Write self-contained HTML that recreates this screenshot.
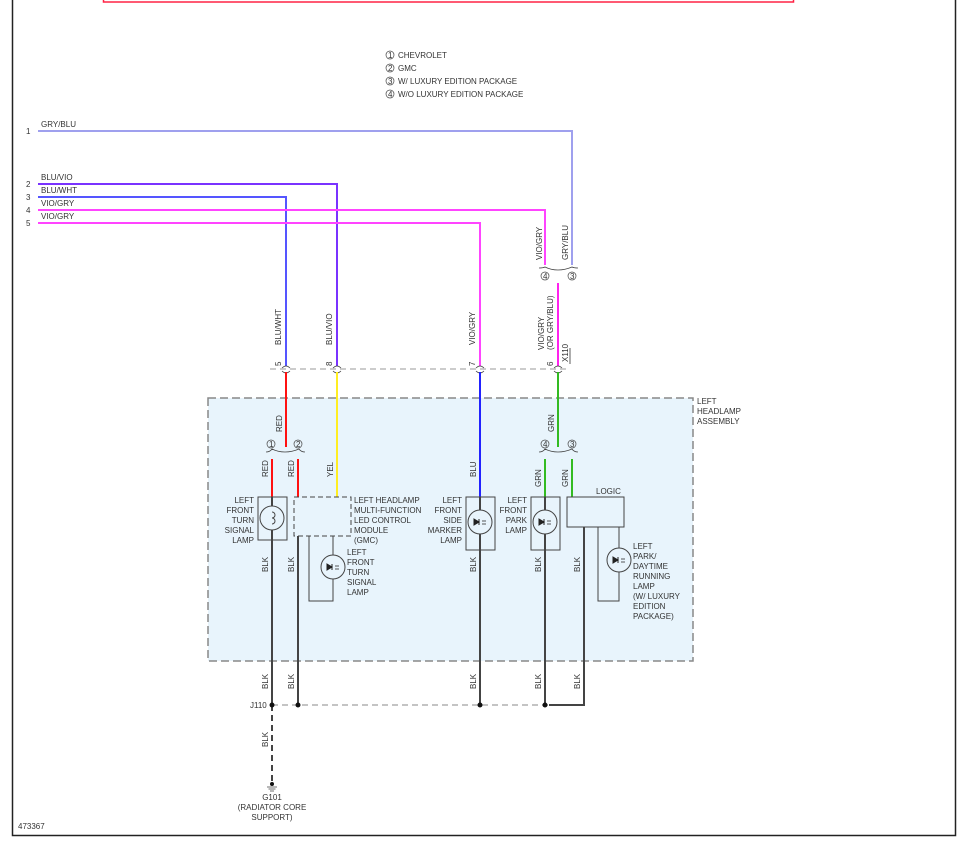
<!DOCTYPE html>
<html><head><meta charset="utf-8"><style>
html,body{margin:0;padding:0;background:#fff;}
svg{display:block;font-family:"Liberation Sans",sans-serif;}
text{font-size:8px;fill:#333;}
</style></head><body>
<svg width="969" height="844" viewBox="0 0 969 844" xmlns="http://www.w3.org/2000/svg">
<rect x="103.5" y="-5" width="690" height="7" fill="none" stroke="#ff2244" stroke-width="1.5"/>
<path d="M12.5 0 V835.5 H955.5 V0" fill="none" stroke="#222" stroke-width="1.5"/>
<!-- legend -->
<g>
<circle cx="390" cy="55" r="4" fill="none" stroke="#444" stroke-width="0.7"/><text x="388" y="58" font-size="6">1</text><text x="398" y="58">CHEVROLET</text>
<circle cx="390" cy="68" r="4" fill="none" stroke="#444" stroke-width="0.7"/><text x="388" y="71" font-size="6">2</text><text x="398" y="71">GMC</text>
<circle cx="390" cy="81" r="4" fill="none" stroke="#444" stroke-width="0.7"/><text x="388" y="84" font-size="6">3</text><text x="398" y="84">W/ LUXURY EDITION PACKAGE</text>
<circle cx="390" cy="94" r="4" fill="none" stroke="#444" stroke-width="0.7"/><text x="388" y="97" font-size="6">4</text><text x="398" y="97">W/O LUXURY EDITION PACKAGE</text>
</g>
<!-- dashed box -->
<rect x="208" y="398" width="485" height="263" fill="#e8f4fc" stroke="#888" stroke-width="1.5" stroke-dasharray="8,4"/>
<text x="697" y="404">LEFT</text><text x="697" y="414">HEADLAMP</text><text x="697" y="424">ASSEMBLY</text>
<!-- harness wires -->
<g fill="none" stroke-width="2">
<path d="M38 131 H572 V265" stroke="#9fa0ee"/>
<path d="M38 184 H337 V366" stroke="#7a33ff"/>
<path d="M38 197 H286 V366" stroke="#5555ff"/>
<path d="M38 210 H545 V265" stroke="#ff44ff"/>
<path d="M38 223 H480 V366" stroke="#ff44ff"/>
<path d="M558 283 V366" stroke="#ff22ee"/>
</g>
<text x="26" y="134">1</text><text x="41" y="127">GRY/BLU</text>
<text x="26" y="187">2</text><text x="41" y="180">BLU/VIO</text>
<text x="26" y="200">3</text><text x="41" y="193">BLU/WHT</text>
<text x="26" y="213">4</text><text x="41" y="206">VIO/GRY</text>
<text x="26" y="226">5</text><text x="41" y="219">VIO/GRY</text>
<!-- upper bracket -->
<path d="M539 268 q4 0 6 -1 q6 3 13 3 q7 0 14 -3 q2 1 6 1" fill="none" stroke="#444" stroke-width="0.8"/>
<circle cx="545" cy="276" r="4" fill="none" stroke="#444" stroke-width="0.7"/><text x="543" y="279" font-size="6">4</text>
<circle cx="572" cy="276" r="4" fill="none" stroke="#444" stroke-width="0.7"/><text x="570" y="279" font-size="6">3</text>
<g font-size="8">
<text transform="translate(542,260) rotate(-90)">VIO/GRY</text>
<text transform="translate(568,260) rotate(-90)">GRY/BLU</text>
<text transform="translate(544,350) rotate(-90)">VIO/GRY</text>
<text transform="translate(553,350) rotate(-90)">(OR GRY/BLU)</text>
<text transform="translate(568,362) rotate(-90)">X110</text>
<text transform="translate(281,345) rotate(-90)">BLU/WHT</text>
<text transform="translate(332,345) rotate(-90)">BLU/VIO</text>
<text transform="translate(475,345) rotate(-90)">VIO/GRY</text>
<text transform="translate(281,366) rotate(-90)">5</text>
<text transform="translate(332,366) rotate(-90)">8</text>
<text transform="translate(475,366) rotate(-90)">7</text>
<text transform="translate(553,366) rotate(-90)">6</text>
</g>
<line x1="570" y1="364" x2="570" y2="348" stroke="#333" stroke-width="0.8"/>
<!-- connector dashed -->
<line x1="270" y1="369" x2="566" y2="369" stroke="#999" stroke-width="1" stroke-dasharray="6,4"/>
<g fill="none" stroke="#444" stroke-width="0.8">
<path d="M282 368 q4 -4 8 0 M282 371 q4 4 8 0"/>
<path d="M333 368 q4 -4 8 0 M333 371 q4 4 8 0"/>
<path d="M476 368 q4 -4 8 0 M476 371 q4 4 8 0"/>
<path d="M554 368 q4 -4 8 0 M554 371 q4 4 8 0"/>
</g>
<!-- lower wires -->
<g fill="none" stroke-width="2">
<path d="M286 372 V447" stroke="#ff1111"/>
<path d="M272 459 V497" stroke="#ff1111"/>
<path d="M298 459 V497" stroke="#ff1111"/>
<path d="M337 372 V497" stroke="#ffee22"/>
<path d="M480 372 V497" stroke="#2222ff"/>
<path d="M558 372 V447" stroke="#33bb22"/>
<path d="M545 459 V497" stroke="#33bb22"/>
<path d="M572 459 V497" stroke="#33bb22"/>
</g>
<path d="M266 456 q4 0 6 -3 q6 3 13 3 q7 0 14 -3 q2 3 6 3" fill="none" stroke="#444" stroke-width="0.8" transform="translate(0,-4)"/>
<path d="M539 456 q4 0 6 -3 q6 3 13 3 q7 0 14 -3 q2 3 6 3" fill="none" stroke="#444" stroke-width="0.8" transform="translate(0,-4)"/>
<circle cx="271" cy="444" r="4" fill="none" stroke="#444" stroke-width="0.7"/><text x="269" y="447" font-size="6">1</text>
<circle cx="298" cy="444" r="4" fill="none" stroke="#444" stroke-width="0.7"/><text x="296" y="447" font-size="6">2</text>
<circle cx="545" cy="444" r="4" fill="none" stroke="#444" stroke-width="0.7"/><text x="543" y="447" font-size="6">4</text>
<circle cx="572" cy="444" r="4" fill="none" stroke="#444" stroke-width="0.7"/><text x="570" y="447" font-size="6">3</text>
<g>
<text transform="translate(282,432) rotate(-90)">RED</text>
<text transform="translate(268,477) rotate(-90)">RED</text>
<text transform="translate(294,477) rotate(-90)">RED</text>
<text transform="translate(333,477) rotate(-90)">YEL</text>
<text transform="translate(476,477) rotate(-90)">BLU</text>
<text transform="translate(554,432) rotate(-90)">GRN</text>
<text transform="translate(541,487) rotate(-90)">GRN</text>
<text transform="translate(568,487) rotate(-90)">GRN</text>
</g>
<!-- black wires -->
<g fill="none" stroke="#444" stroke-width="2">
<path d="M272 497 V705"/><path d="M298 536 V705"/><path d="M480 497 V705"/><path d="M545 497 V705"/>
<path d="M584 527 V705 H549"/>
</g>
<!-- components -->
<g fill="none" stroke="#444" stroke-width="1">
<rect x="258" y="497" width="29" height="43"/>
<circle cx="272" cy="518" r="12" fill="#e8f4fc"/>
<path d="M272 512 a3 3 0 1 1 0 6 a3 3 0 1 1 0 6"/>
<rect x="294" y="497" width="57" height="39" stroke-dasharray="5,3"/>
<path d="M309 536 V601 H333 V536"/>
<circle cx="333" cy="567" r="12" fill="#e8f4fc"/>
<rect x="466" y="497" width="29" height="53"/>
<circle cx="480" cy="522" r="12" fill="#e8f4fc"/>
<rect x="531" y="497" width="29" height="53"/>
<circle cx="545" cy="522" r="12" fill="#e8f4fc"/>
<rect x="567" y="497" width="57" height="30"/>
<path d="M598 527 V601 H619 V527"/>
<circle cx="619" cy="560" r="12" fill="#e8f4fc"/>
</g>
<g fill="#222">
<path d="M327 564 l5 3 l-5 3z M332 564 v6" stroke="#222" stroke-width="1"/>
<path d="M474 519 l5 3 l-5 3z M479 519 v6" stroke="#222" stroke-width="1"/>
<path d="M539 519 l5 3 l-5 3z M544 519 v6" stroke="#222" stroke-width="1"/>
<path d="M613 557 l5 3 l-5 3z M618 557 v6" stroke="#222" stroke-width="1"/>
</g>
<g stroke="#222" stroke-width="0.8"><path d="M335 566 h4 M335 569 h4 M482 521 h4 M482 524 h4 M547 521 h4 M547 524 h4 M621 559 h4 M621 562 h4"/></g>
<!-- component labels -->
<g text-anchor="end">
<text x="254" y="503">LEFT</text><text x="254" y="513">FRONT</text><text x="254" y="523">TURN</text><text x="254" y="533">SIGNAL</text><text x="254" y="543">LAMP</text>
<text x="462" y="503">LEFT</text><text x="462" y="513">FRONT</text><text x="462" y="523">SIDE</text><text x="462" y="533">MARKER</text><text x="462" y="543">LAMP</text>
<text x="527" y="503">LEFT</text><text x="527" y="513">FRONT</text><text x="527" y="523">PARK</text><text x="527" y="533">LAMP</text>
</g>
<text x="354" y="503">LEFT HEADLAMP</text><text x="354" y="513">MULTI-FUNCTION</text><text x="354" y="523">LED CONTROL</text><text x="354" y="533">MODULE</text><text x="354" y="543">(GMC)</text>
<text x="347" y="555">LEFT</text><text x="347" y="565">FRONT</text><text x="347" y="575">TURN</text><text x="347" y="585">SIGNAL</text><text x="347" y="595">LAMP</text>
<text x="596" y="494">LOGIC</text>
<text x="633" y="549">LEFT</text><text x="633" y="559">PARK/</text><text x="633" y="569">DAYTIME</text><text x="633" y="579">RUNNING</text><text x="633" y="589">LAMP</text><text x="633" y="599">(W/ LUXURY</text><text x="633" y="609">EDITION</text><text x="633" y="619">PACKAGE)</text>
<g>
<text transform="translate(268,572) rotate(-90)">BLK</text>
<text transform="translate(294,572) rotate(-90)">BLK</text>
<text transform="translate(476,572) rotate(-90)">BLK</text>
<text transform="translate(541,572) rotate(-90)">BLK</text>
<text transform="translate(580,572) rotate(-90)">BLK</text>
<text transform="translate(268,689) rotate(-90)">BLK</text>
<text transform="translate(294,689) rotate(-90)">BLK</text>
<text transform="translate(476,689) rotate(-90)">BLK</text>
<text transform="translate(541,689) rotate(-90)">BLK</text>
<text transform="translate(580,689) rotate(-90)">BLK</text>
<text transform="translate(268,747) rotate(-90)">BLK</text>
</g>
<!-- J110 -->
<line x1="272" y1="705" x2="549" y2="705" stroke="#888" stroke-width="1" stroke-dasharray="6,4"/>
<line x1="272" y1="705" x2="272" y2="783" stroke="#444" stroke-width="2" stroke-dasharray="6,4"/>
<g fill="#111"><circle cx="272" cy="705" r="2.5"/><circle cx="298" cy="705" r="2.5"/><circle cx="480" cy="705" r="2.5"/><circle cx="545" cy="705" r="2.5"/><circle cx="272" cy="784" r="2"/></g>
<text x="250" y="708">J110</text>
<g stroke="#444" stroke-width="0.8"><path d="M267 787 h10 M268.5 789 h7 M270 791 h4"/></g>
<text x="272" y="800" text-anchor="middle">G101</text>
<text x="272" y="810" text-anchor="middle">(RADIATOR CORE</text>
<text x="272" y="820" text-anchor="middle">SUPPORT)</text>
<text x="18" y="829" font-size="7">473367</text>
</svg>
</body></html>
